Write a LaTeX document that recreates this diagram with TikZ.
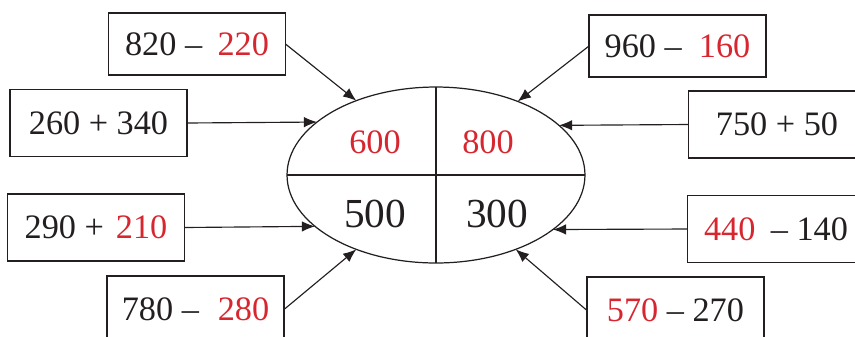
\documentclass[tikz,border=0pt]{standalone}
\usepackage{fontspec}
\setmainfont{Liberation Serif}
\usetikzlibrary{arrows.meta,shapes.geometric}
\definecolor{numred}{HTML}{D7262F}
\definecolor{ink}{HTML}{231F20}
\newcommand{\hl}[1]{\textcolor{numred}{#1}}

\begin{document}
\begin{tikzpicture}[x=0.02cm,y=-0.02cm,
  sumbox/.style={draw=ink,line width=0.8pt,minimum width=3.54cm,minimum height=1.34cm,
    inner sep=0pt,outer sep=0pt,text=ink,font=\fontsize{19.5}{22}\selectfont},
  topbox/.style={sumbox,minimum height=1.24cm},
  feed/.style={draw=ink,line width=0.65pt,-{Latex[length=7.5pt,width=6pt]}},
  cell/.style={inner sep=0pt,font=\fontsize{19.5}{22}\selectfont}]
  \useasboundingbox (0,0) rectangle (855,336);
  % oval with four cells
  \node[ellipse,draw=ink,line width=0.7pt,minimum width=5.96cm,minimum height=3.52cm,
    inner sep=0pt,outer sep=0pt] (oval) at (436,175) {};
  \draw[ink,line width=0.7pt] (oval.west) -- (oval.east);
  \draw[ink,line width=0.7pt] (oval.north) -- (oval.south);
  \node[cell,text=numred] (nw) at (375,142) {600};
  \node[cell,text=numred] (ne) at (488,142) {800};
  \node[cell,text=ink,font=\fontsize{23.5}{26}\selectfont] (sw) at (375,214) {500};
  \node[cell,text=ink,font=\fontsize{23.5}{26}\selectfont] (se) at (497,214) {300};
  % left column
  \node[topbox] (b1) at (197,44) {820 -- \hspace{0.2em}\hl{220}};
  \node[sumbox] (b2) at (98.5,123) {260 + 340};
  \node[sumbox] (b3) at (96,227.5) {290 + \hspace{0.1em}\hl{210}};
  \node[sumbox] (b4) at (195.5,309.5) {780 -- \hspace{0.3em}\hl{280}};
  % right column
  \node[topbox] (b5) at (677.5,46) {960 -- \hspace{0.25em}\hl{160}};
  \node[sumbox] (b6) at (777,124.5) {750 + 50};
  \node[sumbox] (b7) at (776,229) {\hl{440}\hspace{0.2em} -- 140};
  \node[sumbox] (b8) at (675.5,310.5) {\hl{570} -- 270};
  % arrows into the oval
  \draw[feed] (b1.east) -- (oval.137);
  \draw[feed] (b2.east) -- (oval.156.6);
  \draw[feed] (b3.east) -- (oval.203.7);
  \draw[feed] (b4.east) -- (oval.223);
  \draw[feed] (b5.west) -- (oval.42);
  \draw[feed] (b6.west) -- (oval.22.5);
  \draw[feed] (b7.west) -- (oval.335.3);
  \draw[feed] (b8.west) -- (oval.317);
\end{tikzpicture}
\end{document}
